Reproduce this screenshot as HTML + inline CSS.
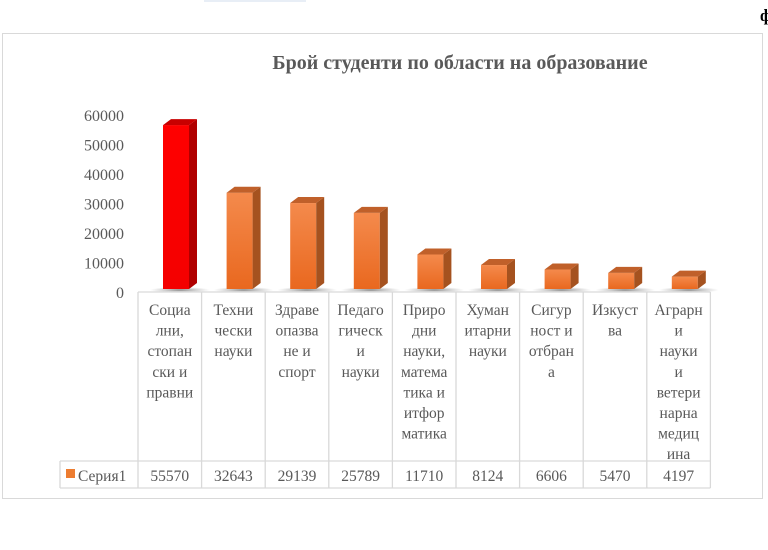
<!DOCTYPE html>
<html><head><meta charset="utf-8">
<style>
body{margin:0;width:768px;height:545px;background:#fff;overflow:hidden;font-family:"Liberation Serif","Noto Serif CJK SC",serif;}
svg text{font-family:"Liberation Serif","Noto Serif CJK SC",serif;}
</style></head>
<body>
<svg id="c" width="768" height="545" xmlns="http://www.w3.org/2000/svg">
<defs>
<linearGradient id="og" x1="0" y1="0" x2="0" y2="1"><stop offset="0" stop-color="#f48a4c"/><stop offset="1" stop-color="#e9681f"/></linearGradient>
<linearGradient id="rg" x1="0" y1="0" x2="0" y2="1"><stop offset="0" stop-color="#ff0000"/><stop offset="1" stop-color="#f40000"/></linearGradient>
<radialGradient id="sh"><stop offset="0" stop-color="#555" stop-opacity="0.7"/><stop offset="1" stop-color="#888" stop-opacity="0"/></radialGradient>
</defs>
<rect x="204" y="0" width="102" height="2" fill="#e8eef6"/>
<text x="760" y="21" font-size="17" font-weight="bold" fill="#000">ф</text>
<rect x="2.5" y="33.5" width="760" height="465" fill="#fff" stroke="#d9d9d9"/>
<text x="460" y="69" text-anchor="middle" font-size="20" font-weight="bold" fill="#595959">Брой студенти по области на образование</text>
<g id="yaxis"></g>
<g id="bars"></g>
<g id="table"></g>
</svg>
<script>
const categories=[["Социа","лни,","стопан","ски и","правни"],["Техни","чески","науки"],["Здраве","опазва","не и","спорт"],["Педаго","гическ","и","науки"],["Приро","дни","науки,","матема","тика и","итфор","матика"],["Хуман","итарни","науки"],["Сигур","ност и","отбран","а"],["Изкуст","ва"],["Аграрн","и","науки","и","ветери","нарна","медиц","ина"]];
const values=[55570,32643,29139,25789,11710,8124,6606,5470,4197];
const yTicks=[0,10000,20000,30000,40000,50000,60000];
const seriesName="Серия1";
const NS="http://www.w3.org/2000/svg";
function el(t,a,p){const e=document.createElementNS(NS,t);for(const k in a)e.setAttribute(k,a[k]);p.appendChild(e);return e;}
const base=289, scale=177/60000, x0=138, colW=63.6;
function y(v){return base-v*scale;}
function colX(i){return x0+i*colW;}
const ya=document.getElementById('yaxis');
yTicks.forEach(t=>{const tx=el('text',{x:124,y:(292-t*177/60000)+6,'text-anchor':'end','font-size':16,fill:'#595959'},ya);tx.textContent=t;

});
const bg=document.getElementById('bars');
values.forEach((v,i)=>{
 const fx=colX(i)+25,w=26,dx=8,dy=6,top=y(v);
 const g=el('g',{},bg);
 
 
 el('ellipse',{cx:fx+w/2+4,cy:base+1,rx:30,ry:3,fill:'url(#sh)'},g);
 const red=i===0;
 el('rect',{x:fx,y:top,width:w,height:base-top,fill:red?'url(#rg)':'url(#og)'},g);
 el('polygon',{points:`${fx+w},${top} ${fx+w+dx},${top-dy} ${fx+w+dx},${base-dy} ${fx+w},${base}`,fill:red?'#b00000':'#a5521f'},g);
 el('polygon',{points:`${fx},${top} ${fx+dx},${top-dy} ${fx+w+dx},${top-dy} ${fx+w},${top}`,fill:red?'#c80000':'#c0602a'},g);
});
const tb=document.getElementById('table');
const st={stroke:'#d9d9d9','stroke-width':1.3};
el('line',Object.assign({x1:x0,y1:292,x2:colX(9),y2:292},st),tb);
el('line',Object.assign({x1:60,y1:461,x2:colX(9),y2:461},st),tb);
el('line',Object.assign({x1:60,y1:488,x2:colX(9),y2:488},st),tb);
el('line',Object.assign({x1:60,y1:461,x2:60,y2:488},st),tb);
for(let i=0;i<=9;i++)el('line',Object.assign({x1:colX(i),y1:292,x2:colX(i),y2:488},st),tb);
categories.forEach((lines,i)=>{
 const t=el('text',{'font-size':15.5,fill:'#595959','text-anchor':'middle'},tb);
 
 
 lines.forEach((l,j)=>{const s=el('tspan',{x:colX(i)+colW/2,y:315+j*20.6},t);s.textContent=l;});
 const vt=el('text',{x:colX(i)+colW/2,y:481,'font-size':15.5,fill:'#595959','text-anchor':'middle'},tb);
 vt.textContent=values[i];
 
 
});
const lk=el('rect',{x:66,y:469,width:9,height:9,fill:'#ed7d31'},tb);


const lt=el('text',{x:78,y:481,'font-size':15.5,fill:'#595959'},tb);
lt.textContent=seriesName;


</script>
</body></html>
